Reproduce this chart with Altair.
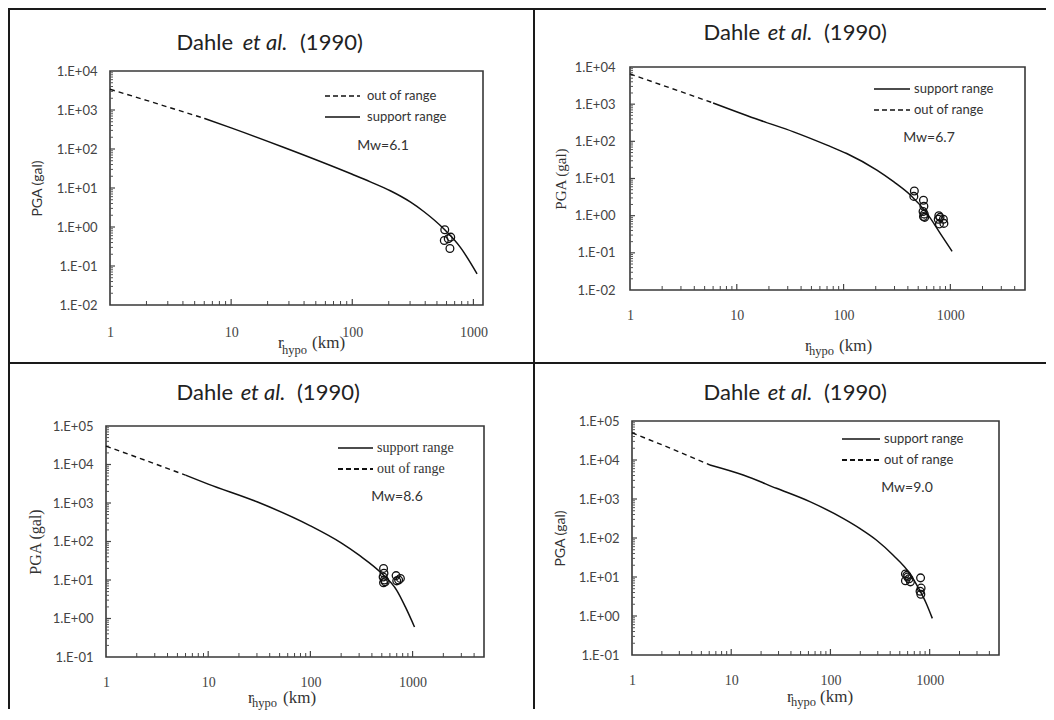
import math
import altair as alt
import pandas as pd

# ---------------- data ----------------
TITLE_PARTS = ["Dahle", "et al.", "(1990)"]
X_TICK_LABELS = [1, 10, 100, 1000]
LEGEND_SUPPORT = "support range"
LEGEND_OUT = "out of range"
Y_TITLE = "PGA (gal)"
X_TITLE_PARTS = ["r", "hypo", "(km)"]

# Panel 1 : Mw 6.1
p1_mw = "Mw=6.1"
p1_out_r = [1, 2, 6]
p1_out_pga = [3400, 1770, 611]
p1_sup_r = [6, 10, 27, 100, 141, 206, 301, 389, 569, 781, 1072]
p1_sup_pga = [611, 348, 111, 22.5, 14.4, 8.5, 4.4, 2.5, 0.9, 0.3, 0.063]
p1_obs_r = [580, 575, 650, 640, 620]
p1_obs_pga = [0.85, 0.45, 0.55, 0.28, 0.5]

# Panel 2 : Mw 6.7
p2_mw = "Mw=6.7"
p2_out_r = [1, 2.5, 6]
p2_out_pga = [6500, 2600, 1080]
p2_sup_r = [6, 16.5, 34, 70, 107, 205, 294, 422, 604, 806, 1037]
p2_sup_pga = [1080, 369, 180, 79, 47, 16.8, 8.2, 3.6, 1.15, 0.33, 0.11]
p2_obs_r = [460, 455, 560, 565, 555, 560, 575, 570, 780, 770, 790, 860, 870, 800]
p2_obs_pga = [4.6, 3.3, 2.6, 1.8, 1.3, 0.95, 0.9, 1.1, 1.0, 0.8, 0.6, 0.8, 0.62, 0.9]

# Panel 3 : Mw 8.6
p3_mw = "Mw=8.6"
p3_out_r = [1, 2.5, 6]
p3_out_pga = [30000, 12500, 5300]
p3_sup_r = [6, 10, 30, 100, 200, 300, 500, 700, 850, 1046]
p3_sup_pga = [5300, 3100, 1075, 255, 92, 44, 14.7, 5.4, 2.0, 0.6]
p3_obs_r = [520, 525, 515, 530, 520, 540, 690, 700, 760, 730]
p3_obs_pga = [20, 15, 12, 10, 8.5, 9, 13, 9.5, 11, 10]

# Panel 4 : Mw 9.0
p4_mw = "Mw=9.0"
p4_out_r = [1, 2.5, 6.1]
p4_out_pga = [50000, 19500, 7450]
p4_sup_r = [6.1, 13.2, 28.6, 62, 134, 197, 290, 427, 629, 793, 925, 1064]
p4_sup_pga = [7450, 4120, 1880, 855, 319, 177, 89, 36.6, 12.4, 4.6, 2.1, 0.87]
p4_obs_r = [570, 570, 600, 620, 640, 590, 810, 820, 800, 815]
p4_obs_pga = [12, 8, 10, 9, 7.5, 11, 9.5, 5.2, 4.3, 3.6]

# ---------------- styling / layout ----------------
SANS = "Lato"
SERIF = "Liberation Serif"
INK = "#111111"
ONE = pd.DataFrame({"k": [0]})

Y_LABEL_EXPR = ("'1.E' + (datum.value >= 1 ? '+' : '-') + "
                "(abs(round(log(datum.value)/LN10)) < 10 ? '0' : '') + "
                "abs(round(log(datum.value)/LN10))")


def txt(s, x, y, font=SANS, size=13, align="left", style="normal", color="#333333", baseline="middle"):
    return alt.Chart(ONE).mark_text(
        text=s, font=font, fontSize=size, align=align, fontStyle=style,
        color=color, baseline=baseline
    ).encode(x=alt.value(x), y=alt.value(y))


def brect(x1, x2, y1, y2, opacity=1):
    # filled rectangle used as a table-cell border
    return alt.Chart(ONE).mark_rect(color="#1a1a1a", opacity=opacity).encode(
        x=alt.value(x1), x2=alt.value(x2), y=alt.value(y1), y2=alt.value(y2))


def panel(out_r, out_pga, sup_r, sup_pga, obs_r, obs_pga, mw, L):
    # the view is the whole table cell; the plot area sits inside it via scale ranges
    W, H = L["W"], L["H"]
    px0, py0, w, h = L["plot"]
    px1, py1 = px0 + w, py0 + h
    xmax = L["xmax"]
    ylo, yhi = L["ydom"]
    xs = alt.Scale(type="log", domain=[1, xmax], nice=False, range=[px0, px1])
    ys = alt.Scale(type="log", domain=[ylo, yhi], nice=False, range=[py1, py0])
    e0, e1 = int(round(math.log10(ylo))), int(round(math.log10(yhi)))
    y_major = [10.0 ** e for e in range(e0, e1 + 1)]

    ax_x = alt.Axis(values=X_TICK_LABELS, labelExpr="datum.value", labelFont=SERIF,
                    labelFontSize=14, labelColor="#444444", labelPadding=L["xlp"],
                    ticks=False, tickSize=0, grid=False, domain=False, title=None,
                    labelFlush=False, labelOverlap=False, offset=py1 - H)
    ax_y = alt.Axis(values=y_major, labelExpr=Y_LABEL_EXPR, labelFont=SANS,
                    labelFontSize=13, labelColor="#444444", labelPadding=L["ylp"],
                    ticks=False, tickSize=0, grid=False, domain=False,
                    labelFlush=False, labelOverlap=False, offset=-px0,
                    title=Y_TITLE, titleFont=L["ytf"], titleFontSize=L["yts"],
                    titleFontWeight="normal", titleColor="#333333",
                    titleX=L["ytx"], titleY=py0 + h / 2, titleAngle=270,
                    titleAlign="center", titleBaseline="middle")
    X = lambda: alt.X("r:Q", scale=xs, axis=ax_x)
    Y = lambda: alt.Y("p:Q", scale=ys, axis=ax_y)

    out_df = pd.DataFrame({"r": out_r, "p": out_pga})
    sup_df = pd.DataFrame({"r": sup_r, "p": sup_pga})
    obs_df = pd.DataFrame({"r": obs_r, "p": obs_pga})

    x_minor = [m * 10 ** k for k in range(0, 4) for m in range(2, 10) if m * 10 ** k < xmax]
    x_major = [v for v in (10, 100, 1000) if v < xmax]
    y_minor = [m * 10.0 ** k for k in range(e0, e1) for m in range(2, 10)]
    y_major_in = y_major[1:-1]

    layers = []
    # invisible full-cell rectangle: fixes the cell's layout bounds to the table cell
    layers.append(brect(0, W, 0, H, opacity=0))
    # plot frame
    layers.append(alt.Chart(ONE).mark_rect(fillOpacity=0, stroke="#383838", strokeWidth=1.6)
                  .encode(x=alt.value(px0), x2=alt.value(px1), y=alt.value(py0), y2=alt.value(py1)))
    # tick marks pointing inward
    layers.append(alt.Chart(pd.DataFrame({"r": x_minor})).mark_rule(color="#444444", strokeWidth=1)
                  .encode(x=X(), y=alt.value(py1), y2=alt.value(py1 - 4)))
    layers.append(alt.Chart(pd.DataFrame({"r": x_major})).mark_rule(color="#444444", strokeWidth=1.2)
                  .encode(x=X(), y=alt.value(py1), y2=alt.value(py1 - 6)))
    layers.append(alt.Chart(pd.DataFrame({"p": y_minor})).mark_rule(color="#555555", strokeWidth=1)
                  .encode(y=Y(), x=alt.value(px0), x2=alt.value(px0 + 3)))
    layers.append(alt.Chart(pd.DataFrame({"p": y_major_in})).mark_rule(color="#444444", strokeWidth=1.2)
                  .encode(y=Y(), x=alt.value(px0), x2=alt.value(px0 + 5)))

    # curves and observations
    layers.append(alt.Chart(out_df).mark_line(color=INK, strokeWidth=1.4, strokeDash=[5, 4])
                  .encode(x=X(), y=Y()))
    layers.append(alt.Chart(sup_df).mark_line(color=INK, strokeWidth=1.5, interpolate="monotone")
                  .encode(x=X(), y=Y()))
    layers.append(alt.Chart(obs_df).mark_point(shape="circle", filled=False, size=60,
                                               strokeWidth=1.3, color=INK, opacity=1)
                  .encode(x=X(), y=Y()))

    # legend drawn inside the plot
    lx0, lx1, lt = L["lx0"], L["lx1"], L["lt"]
    for i, (label, dashed) in enumerate(L["legend_rows"]):
        yy = L["ly"][i]
        props = dict(color=INK, strokeWidth=1.5)
        if dashed:
            props["strokeDash"] = L.get("ldash", [5, 3])
            props["strokeWidth"] = L.get("ldw", 1.5)
        layers.append(alt.Chart(ONE).mark_rule(**props)
                      .encode(x=alt.value(lx0), x2=alt.value(lx1), y=alt.value(yy)))
        layers.append(txt(label, lt, yy, font=L["lfont"], size=L["lsize"], color="#333333"))
    layers.append(txt(mw, L["mwx"], L["mwy"], size=14, align="center", color="#333333"))

    # title with italic "et al."
    t1, t2, t3, ty = L["title"]
    layers.append(txt(TITLE_PARTS[0], t1, ty, size=22, align="right", color="#222222"))
    layers.append(txt(TITLE_PARTS[1], t2, ty, size=22, align="center", style="italic", color="#222222"))
    layers.append(txt(TITLE_PARTS[2], t3, ty, size=22, align="left", color="#222222"))

    # x-axis title with subscript
    rx, hx, kx, yo, ysub = L["xt"]
    layers.append(txt(X_TITLE_PARTS[0], rx, yo, font=SERIF, size=17))
    layers.append(txt(X_TITLE_PARTS[1], hx, ysub, font=SERIF, size=12.5))
    layers.append(txt(X_TITLE_PARTS[2], kx, yo, font=SERIF, size=17))

    # table cell borders
    for side in L["borders"]:
        if side == "top":
            layers.append(brect(0, W, 0, 2))
        elif side == "bottom":
            layers.append(brect(0, W, H - 2, H))
        elif side == "left":
            layers.append(brect(0, 2, 0, H))
        elif side == "right":
            layers.append(brect(W - 2, W, 0, H))

    return alt.layer(*layers).properties(width=W, height=H)


# whole page must stay within 1054x720 including the 8px body margins
L1 = dict(W=527, H=356, plot=(102, 63, 373, 234), xmax=1200, ydom=[1e-2, 1e4],
          xlp=20, ylp=13, ytf=SANS, yts=14, ytx=-73,
          lx0=317, lx1=352, lt=359, ly=[88, 109], lfont=SANS, lsize=13,
          legend_rows=[(LEGEND_OUT, True), (LEGEND_SUPPORT, False)],
          mwx=375, mwy=138, title=(225, 257, 292, 35), xt=(270, 274, 304, 335, 342),
          borders=["top", "bottom", "left", "right"])
L2 = dict(W=511, H=356, plot=(95, 59, 395, 223), xmax=5000, ydom=[1e-2, 1e4],
          xlp=18, ylp=15, ytf=SERIF, yts=15, ytx=-70,
          lx0=339, lx1=375, lt=379, ly=[81, 102], lfont=SANS, lsize=13,
          legend_rows=[(LEGEND_SUPPORT, False), (LEGEND_OUT, True)],
          mwx=394, mwy=130, title=(225, 255, 289, 25), xt=(270, 274, 304, 338, 343),
          borders=["top", "bottom"])
L3 = dict(W=527, H=345, plot=(98, 62, 378, 231), xmax=5000, ydom=[1e-1, 1e5],
          xlp=18, ylp=13, ytf=SERIF, yts=16, ytx=-71,
          lx0=330, lx1=365, lt=369, ly=[84, 105], lfont=SERIF, lsize=14, ldash=[5, 3], ldw=2,
          legend_rows=[(LEGEND_SUPPORT, False), (LEGEND_OUT, True)],
          mwx=389, mwy=133, title=(225, 255, 289, 29), xt=(240, 244, 275, 334, 339),
          borders=["left", "right"])
L4 = dict(W=511, H=345, plot=(97, 57, 367, 234), xmax=5000, ydom=[1e-1, 1e5],
          xlp=18, ylp=13, ytf=SANS, yts=14, ytx=-72,
          lx0=307, lx1=345, lt=349, ly=[75, 96], lfont=SANS, lsize=13, ldash=[5, 3], ldw=2,
          legend_rows=[(LEGEND_SUPPORT, False), (LEGEND_OUT, True)],
          mwx=372, mwy=124, title=(225, 255, 289, 29), xt=(252, 256, 285, 333, 338),
          borders=[])

c1 = panel(p1_out_r, p1_out_pga, p1_sup_r, p1_sup_pga, p1_obs_r, p1_obs_pga, p1_mw, L1)
c2 = panel(p2_out_r, p2_out_pga, p2_sup_r, p2_sup_pga, p2_obs_r, p2_obs_pga, p2_mw, L2)
c3 = panel(p3_out_r, p3_out_pga, p3_sup_r, p3_sup_pga, p3_obs_r, p3_obs_pga, p3_mw, L3)
c4 = panel(p4_out_r, p4_out_pga, p4_sup_r, p4_sup_pga, p4_obs_r, p4_obs_pga, p4_mw, L4)

chart = alt.concat(
    c1, c2, c3, c4, columns=2, spacing=0, bounds="full"
).properties(padding=0, background="white").configure_view(strokeWidth=0)

chart.save("out.html", embed_options={"renderer": "svg", "actions": False})
